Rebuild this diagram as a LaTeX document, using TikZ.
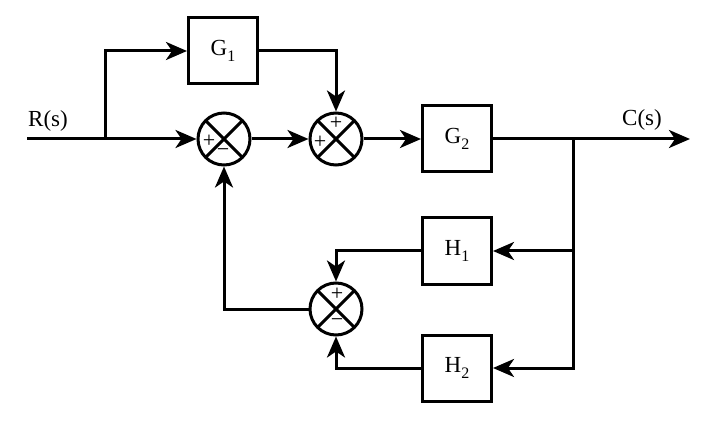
\documentclass[tikz,border=0pt]{standalone}
\usepackage{fontspec}
\setmainfont{Liberation Serif}
\usetikzlibrary{positioning,arrows.meta,calc}
\newcommand{\lowsub}[1]{\raisebox{-0.6ex}{\fontsize{16}{16}\selectfont #1}}

\begin{document}
\begin{tikzpicture}[x=1pt,y=-1pt,line width=3pt,
  block/.style={draw,rectangle,minimum width=69pt,minimum height=66pt,font=\fontsize{23}{26}\selectfont},
  sumj/.style={draw,circle,minimum size=52pt,inner sep=0pt,
    path picture={\draw (path picture bounding box.north west) -- (path picture bounding box.south east);
                  \draw (path picture bounding box.north east) -- (path picture bounding box.south west);}},
  sgn/.style={font=\fontsize{22}{22}\selectfont,inner sep=0pt},
  >={Stealth[length=21pt,width=18pt,inset=6pt]}]

\useasboundingbox (0,0) rectangle (707,422);

\node[block] (g1) at (223,51) {G\lowsub{1}};
\node[block] (g2) at (457,139) {G\lowsub{2}};
\node[block] (h1) at (457,251) {H\lowsub{1}};
\node[block] (h2) at (457,368) {H\lowsub{2}};
\node[sumj] (s1) at (224,139) {};
\node[sumj] (s2) at (336,139) {};
\node[sumj] (s3) at (336,309) {};
\coordinate (in) at (27,139);
\coordinate (split) at (105,139);
\coordinate (tap) at (573,139);
\coordinate (out) at (690,139);

% signs
\node[sgn] at ($(s1)+(-15,2)$) {+};
\node[sgn] at ($(s1)+(-1,14)$) {−};
\node[sgn] at ($(s2)+(-16,3)$) {+};
\node[sgn] at ($(s2)+(0,-16)$) {+};
\node[sgn] at ($(s3)+(1,-15)$) {+};
\node[sgn] at ($(s3)+(1,14)$) {−};

\node[font=\fontsize{23}{26}\selectfont] (rs) at (48,121) {R(s)};
\node[font=\fontsize{23}{26}\selectfont] (cs) at (642,120) {C(s)};

% forward path
\draw (in) -- (split);
\draw[->] (split) -- (s1);
\draw[->] (split) |- (g1);
\draw[->] (g1) -| (s2);
\draw[->] (s1) -- (s2);
\draw[->] (s2) -- (g2);
\draw (g2) -- (tap);
\draw[->] (tap) -- (out);

% feedback
\draw[->] (tap) |- (h1);
\draw[->] (tap) |- (h2);
\draw[->] (h1) -| (s3);
\draw[->] (h2) -| (s3);
\draw[->] (s3) -| (s1);

\end{tikzpicture}
\end{document}
